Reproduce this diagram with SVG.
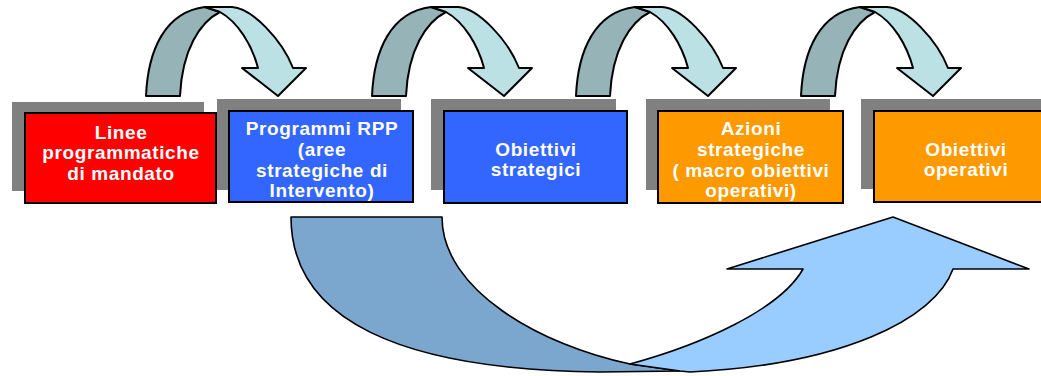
<svg xmlns="http://www.w3.org/2000/svg" xmlns:xlink="http://www.w3.org/1999/xlink" width="1041" height="376" viewBox="0 0 1041 376">
<style>
.shadow{fill:#808080}
.box{stroke:#000;stroke-width:2}
.red{fill:#FF0000}
.blue{fill:#3366FF}
.orange{fill:#FF9900}
.lbl{font-family:"Liberation Sans",Arial,sans-serif;font-weight:bold;font-size:19px;letter-spacing:0.6px;fill:#fff;text-anchor:middle}
.arcD{fill:#96B4B7;stroke:#000;stroke-width:2;stroke-linejoin:round}
.arcL{fill:#BBE1E4;stroke:#000;stroke-width:2;stroke-linejoin:round}
.bigD{fill:#7BA6CD;stroke:#000;stroke-width:1.6;stroke-linejoin:round}
.bigL{fill:#99CCFF;stroke:#000;stroke-width:1.6;stroke-linejoin:round}
</style>
<defs>
<g id="arc">
<path class="arcD" d="M146,96 C148,50 165,12 205,7 L220,12 C200,22 182,50 180,96 Z"/>
<path class="arcL" d="M205,7 L232,7 C252,8 282,40 293,68 L306,68 L278,96 L242,68 L258,68 C252,45 238,22 220,12 Z"/>
</g>
</defs>
<rect width="1041" height="376" fill="#fff"/>
<g id="connectors">
<use xlink:href="#arc" href="#arc"/>
<use xlink:href="#arc" href="#arc" transform="translate(226,0)"/>
<use xlink:href="#arc" href="#arc" transform="translate(430,0)"/>
<use xlink:href="#arc" href="#arc" transform="translate(655,0)"/>
<g id="big-arrow">
<path class="bigD" d="M291,217 L442,217 C442,290 540,345 630,364 L680,371 L600,372 C400,370 291,320 291,217 Z"/>
<path class="bigL" d="M630,364 C700,345 780,310 803,269 L727,269 L893,217 L1029,269 L953,269 C935,320 840,365 690,372 L680,371 Z"/>
</g>
</g>
<g id="node1">
<rect class="shadow" x="12" y="102" width="192" height="89"/>
<rect class="box red" x="25" y="113" width="191" height="90"/>
<text class="lbl" x="121" y="139">Linee</text>
<text class="lbl" x="121" y="159">programmatiche</text>
<text class="lbl" x="121" y="180">di mandato</text>
</g>
<g id="node2">
<rect class="shadow" x="217" y="99" width="184" height="91"/>
<rect class="box blue" x="229" y="111" width="184" height="91"/>
<text class="lbl" x="322" y="135">Programmi RPP</text>
<text class="lbl" x="322" y="156">(aree</text>
<text class="lbl" x="322" y="177">strategiche di</text>
<text class="lbl" x="322" y="197">Intervento)</text>
</g>
<g id="node3">
<rect class="shadow" x="431" y="99" width="185" height="91"/>
<rect class="box blue" x="444" y="111" width="183" height="92"/>
<text class="lbl" x="536" y="156">Obiettivi</text>
<text class="lbl" x="536" y="176">strategici</text>
</g>
<g id="node4">
<rect class="shadow" x="646" y="99" width="184" height="91"/>
<rect class="box orange" x="658" y="111" width="185" height="92"/>
<text class="lbl" x="751" y="135">Azioni</text>
<text class="lbl" x="751" y="156">strategiche</text>
<text class="lbl" x="751" y="177">( macro obiettivi</text>
<text class="lbl" x="751" y="197">operativi)</text>
</g>
<g id="node5">
<rect class="shadow" x="861" y="99" width="190" height="90"/>
<rect class="box orange" x="874" y="111" width="190" height="91"/>
<text class="lbl" x="966" y="156">Obiettivi</text>
<text class="lbl" x="966" y="176">operativi</text>
</g>
</svg>
